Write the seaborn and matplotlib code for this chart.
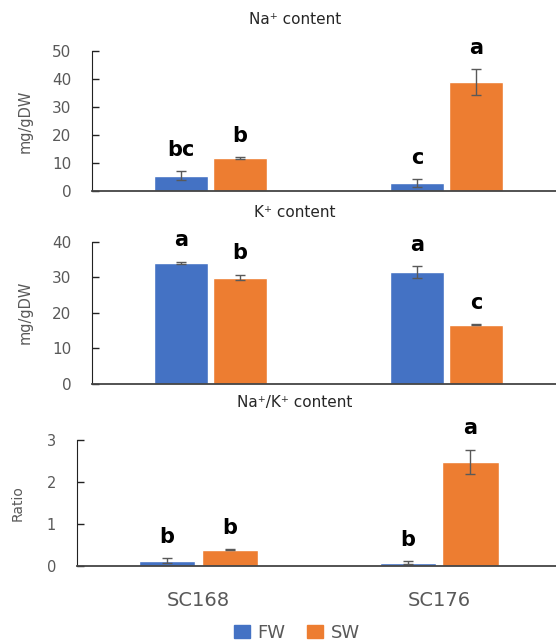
import pandas as pd
import numpy as np
import matplotlib
matplotlib.use('Agg')
import matplotlib.pyplot as plt
import seaborn as sns

# data
genotypes = ['SC168', 'SC176']
treatments = ['FW', 'SW']

na_fw = [5.4, 2.9]
na_sw = [11.8, 38.9]
na_fw_err = [1.6, 1.4]
na_sw_err = [0.3, 4.6]
na_fw_letters = ['bc', 'c']
na_sw_letters = ['b', 'a']

k_fw = [34.1, 31.5]
k_sw = [29.9, 16.6]
k_fw_err = [0.3, 1.6]
k_sw_err = [0.8, 0.2]
k_fw_letters = ['a', 'a']
k_sw_letters = ['b', 'c']

ratio_fw = [0.14, 0.09]
ratio_sw = [0.40, 2.49]
ratio_fw_err = [0.06, 0.03]
ratio_sw_err = [0.01, 0.29]
ratio_fw_letters = ['b', 'b']
ratio_sw_letters = ['b', 'a']

colors = {'FW': '#4472C4', 'SW': '#ED7D31'}
grey = '#595959'

sns.set_style('white')
plt.rcParams['font.family'] = ['DejaVu Sans']


def make_df(fw, sw):
    return pd.DataFrame({
        'Genotype': genotypes * 2,
        'Treatment': ['FW'] * len(genotypes) + ['SW'] * len(genotypes),
        'Value': list(fw) + list(sw),
    })


def draw_panel(ax, fw, sw, fw_err, sw_err, fw_let, sw_let, width, ylim, yticks, xlim, tick_fs):
    df = make_df(fw, sw)
    sns.barplot(data=df, x='Genotype', y='Value', hue='Treatment', order=genotypes,
                hue_order=treatments, palette=colors, width=width, gap=0.1,
                errorbar=None, legend=False, saturation=1, ax=ax)
    errs = [fw_err, sw_err]
    lets = [fw_let, sw_let]
    for cont, err, let in zip(ax.containers, errs, lets):
        for bar, e, t in zip(cont, err, let):
            xc = bar.get_x() + bar.get_width() / 2
            h = bar.get_height()
            ax.errorbar(xc, h, yerr=e, fmt='none', ecolor=grey, elinewidth=1,
                        capsize=3.5, capthick=1)
            ax.annotate(t, (xc, h + e), xytext=(0, 11), textcoords='offset points',
                        ha='center', va='baseline', fontsize=15, fontweight='bold',
                        color='black')
    ax.set_ylim(*ylim)
    ax.set_yticks(yticks)
    ax.set_xlim(*xlim)
    sns.despine(ax=ax)
    ax.spines['left'].set_color('#222222')
    ax.spines['bottom'].set_color('#444444')
    ax.spines['bottom'].set_linewidth(1.3)
    ax.tick_params(axis='y', left=True, direction='in', length=5, width=1, color='#222222',
                   labelsize=tick_fs, labelcolor=grey, pad=15)
    ax.set_xlabel('')


fig = plt.figure(figsize=(5.56, 6.44), dpi=100)

ax1 = fig.add_axes([0.1655, 0.7034, 0.8345, 0.2174])
draw_panel(ax1, na_fw, na_sw, na_fw_err, na_sw_err, na_fw_letters, na_sw_letters,
           0.5, (0, 50), [0, 10, 20, 30, 40, 50], (-0.502, 1.464), 11)
ax1.set_ylabel('mg/gDW', fontsize=10.5, color=grey, labelpad=14)
ax1.tick_params(axis='x', bottom=False, labelbottom=False)

ax2 = fig.add_axes([0.1655, 0.4042, 0.8345, 0.2205])
draw_panel(ax2, k_fw, k_sw, k_fw_err, k_sw_err, k_fw_letters, k_sw_letters,
           0.5, (0, 40), [0, 10, 20, 30, 40], (-0.502, 1.464), 11)
ax2.set_ylabel('mg/gDW', fontsize=10.5, color=grey, labelpad=14)
ax2.tick_params(axis='x', bottom=False, labelbottom=False)

ax3 = fig.add_axes([0.1385, 0.1204, 0.8615, 0.1957])
draw_panel(ax3, ratio_fw, ratio_sw, ratio_fw_err, ratio_sw_err, ratio_fw_letters,
           ratio_sw_letters, 0.52, (0, 3), [0, 1, 2, 3], (-0.505, 1.486), 10.5)
ax3.set_ylabel('Ratio', fontsize=10, color=grey, labelpad=16)
ax3.tick_params(axis='x', bottom=False, labelsize=14, labelcolor=grey, pad=14)

fig.text(0.53, 1 - 19 / 644, 'Na\u207a content', ha='center', va='center', fontsize=11)
fig.text(0.53, 1 - 212 / 644, 'K\u207a content', ha='center', va='center', fontsize=11)
fig.text(0.53, 1 - 403 / 644, 'Na\u207a/K\u207a content', ha='center', va='center', fontsize=11)

handles = [plt.Rectangle((0, 0), 1, 1, color=colors[t]) for t in treatments]
fig.legend(handles, treatments, loc='center', bbox_to_anchor=(0.534, 1 - 633 / 644),
           ncol=2, frameon=False, fontsize=13, handlelength=0.9, handleheight=0.7,
           handletextpad=0.4, columnspacing=1.2, labelcolor=grey)

fig.savefig('out.png', dpi=100)
